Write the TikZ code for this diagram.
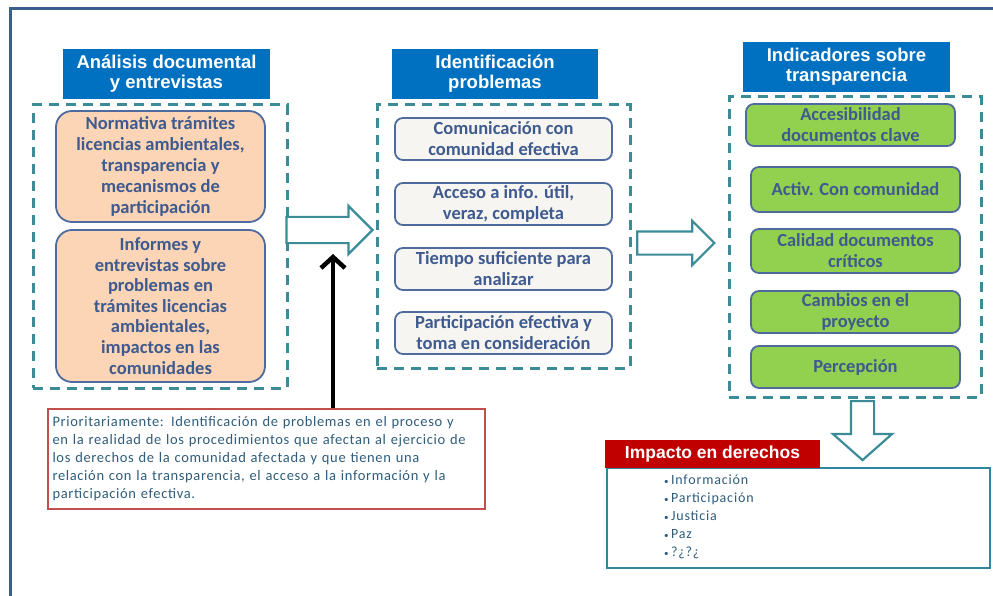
\documentclass[tikz,border=0pt]{standalone}
\usepackage{fontspec}
\setmainfont{Carlito}
\newfontfamily\hdfont{Liberation Sans}
\newfontfamily\spacedfont[LetterSpace=4.5]{Carlito}
\newfontfamily\listfont[LetterSpace=6]{Carlito}
\usetikzlibrary{shapes.arrows,arrows.meta}
\definecolor{framecol}{HTML}{3B5E91}
\definecolor{hdblue}{HTML}{0070C0}
\definecolor{dashteal}{HTML}{3C8C98}
\definecolor{boxedge}{HTML}{4F6B9E}
\definecolor{boxtext}{HTML}{3E5A8E}
\definecolor{orfill}{HTML}{FBD5B5}
\definecolor{greyfill}{HTML}{F6F5F1}
\definecolor{greenfill}{HTML}{92D050}
\definecolor{prioedge}{HTML}{C0504D}
\definecolor{priotext}{HTML}{2E5C7A}
\definecolor{impred}{HTML}{C00000}
\definecolor{impteal}{HTML}{31859C}
\tikzset{
  hdbox/.style={fill=hdblue, text=white, font=\hdfont\bfseries\fontsize{18.5}{20}\selectfont, align=center, inner sep=0pt, minimum width=207pt, minimum height=50pt},
  grpbox/.style={draw=dashteal, line width=3pt, dash pattern=on 10pt off 7pt, inner sep=0pt},
  itembox/.style={draw=boxedge, line width=1.8pt, rounded corners=8pt, text=boxtext, font=\bfseries\fontsize{18.5}{21}\selectfont, align=center, inner sep=0pt},
  orbox/.style={itembox, fill=orfill, rounded corners=16pt, minimum width=209pt},
  greybox/.style={itembox, fill=greyfill, minimum width=217pt, minimum height=42pt},
  greenbox/.style={itembox, fill=greenfill, minimum width=209pt},
  hollow/.style={single arrow, draw=dashteal, fill=white, line width=2.2pt, inner xsep=0pt, single arrow head indent=0pt}
}
\newcommand\litem{{\fontsize{9}{9}\selectfont\textbullet}\,}
\begin{document}
\begin{tikzpicture}[x=1pt,y=-1pt]
\useasboundingbox (0,0) rectangle (993,596);
\draw[framecol, line width=3pt] (10,596) -- (10,9) -- (993,9);
\node[hdbox] (hd1) at (166.5,74) {Análisis documental\\y entrevistas};
\node[hdbox, minimum width=206pt] (hd2) at (495,74) {Identificación\\problemas};
\node[hdbox] (hd3) at (846.5,67) {Indicadores sobre\\transparencia};
\node[grpbox, minimum width=254pt, minimum height=283pt] (grp1) at (160,246.5) {};
\node[grpbox, minimum width=253pt, minimum height=263pt] (grp2) at (503.5,236.5) {};
\node[grpbox, minimum width=252pt, minimum height=300pt] (grp3) at (855,247) {};
\node[orbox, minimum height=111pt] (doc1) at (160.5,166.5) {Normativa trámites\\licencias ambientales,\\transparencia y\\mecanismos de\\participación};
\node[orbox, minimum height=152pt, font=\bfseries\fontsize{18.5}{20.6}\selectfont] (doc2) at (160.5,306) {Informes y\\entrevistas sobre\\problemas en\\trámites licencias\\ambientales,\\impactos en las\\comunidades};
\node[greybox] (prob1) at (503.5,139) {Comunicación con\\comunidad efectiva};
\node[greybox] (prob2) at (503.5,204) {Acceso a info. útil,\\veraz, completa};
\node[greybox] (prob3) at (503.5,269) {Tiempo suficiente para\\analizar};
\node[greybox] (prob4) at (503.5,333) {Participación efectiva y\\toma en consideración};
\node[greenbox, minimum height=42pt] (ind1) at (850.5,125) {Accesibilidad\\documentos clave};
\node[greenbox, minimum height=45pt] (ind2) at (855.5,189.5) {Activ. Con comunidad};
\node[greenbox, minimum height=44pt] (ind3) at (855.5,251) {Calidad documentos\\críticos};
\node[greenbox, minimum height=42pt] (ind4) at (855.5,312) {Cambios en el\\proyecto};
\node[greenbox, minimum height=42pt] (ind5) at (855.5,367) {Percepción};
\node[hollow, inner ysep=12pt, minimum height=86pt, single arrow head extend=11pt] (arr1) at (323,230) {};
\node[hollow, inner ysep=10.5pt, minimum height=77pt, single arrow head extend=10.5pt] (arr2) at (670,243) {};
\node[hollow, inner ysep=10.5pt, minimum height=59pt, single arrow head extend=18pt, single arrow tip angle=97, rotate=-90] (arr3) at (862.5,425.5) {};
\node[draw=prioedge, line width=2pt, text=priotext, font=\spacedfont\fontsize{14.5}{18}\selectfont, align=left, minimum width=437pt, minimum height=100pt, inner sep=0pt, text width=428pt] (prio) at (266.5,459) {Prioritariamente: Identificación de problemas en el proceso y\\en la realidad de los procedimientos que afectan al ejercicio de\\los derechos de la comunidad afectada y que tienen una\\relación con la transparencia, el acceso a la información y la\\participación efectiva.};
\coordinate (tip) at (333,254);
\draw[line width=4.5pt, -{Straight Barb[length=11pt,width=24pt]}] (prio.north -| tip) -- (tip);
\node[draw=impteal, line width=2.5pt, minimum width=383pt, minimum height=100pt, inner sep=0pt] (imp) at (798.5,518) {};
\node[fill=impred, text=white, font=\hdfont\bfseries\fontsize{17.5}{20}\selectfont, minimum width=215pt, minimum height=28pt, inner sep=0pt] (implab) at (712.5,454) {Impacto en derechos};
\node[anchor=north west, text=priotext, font=\listfont\fontsize{14}{18}\selectfont, align=left, inner sep=0pt] (implist) at (664,475) {\litem Información\\\litem Participación\\\litem Justicia\\\litem Paz\\\litem ?¿?¿};
\end{tikzpicture}
\end{document}
